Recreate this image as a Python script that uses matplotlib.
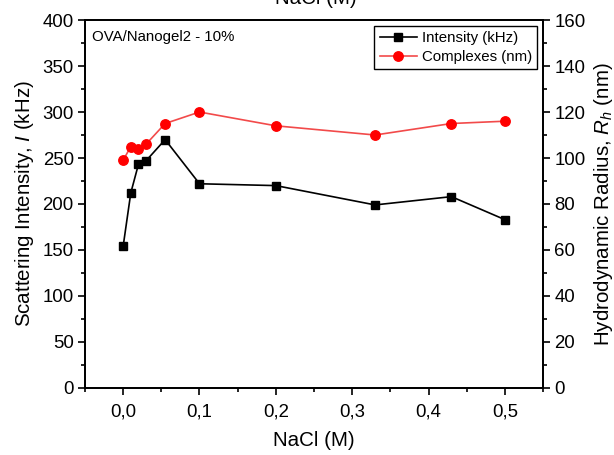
import numpy as np
import matplotlib
matplotlib.use('Agg')
import matplotlib.pyplot as plt
from matplotlib.ticker import MultipleLocator, FuncFormatter

## DATA
nacl = [0.0, 0.01, 0.02, 0.03, 0.055, 0.1, 0.2, 0.33, 0.43, 0.5]
intensity = [154, 212, 243, 247, 270, 222, 220, 199, 208, 183]  # kHz
complexes = [99, 105, 104, 106, 115, 120, 114, 110, 115, 116]   # nm

plt.rcParams['font.family'] = ['Liberation Sans', 'DejaVu Sans']
plt.rcParams['mathtext.fontset'] = 'custom'
plt.rcParams['mathtext.it'] = 'Liberation Sans:italic'
plt.rcParams['mathtext.rm'] = 'Liberation Sans'

fig = plt.figure(figsize=(6.14, 4.55), dpi=100)
ax = fig.add_axes([0.1384, 0.1473, 0.746, 0.8087])
ax2 = ax.twinx()

l1, = ax.plot(nacl, intensity, color='black', lw=1.2, marker='s', ms=5.8,
              label='Intensity (kHz)')
l2, = ax2.plot(nacl, complexes, color='#f24a4a', lw=1.2, marker='o', ms=6.8,
               mfc='red', mec='red', label='Complexes (nm)')

ax.set_xlim(-0.05, 0.55)
ax.set_ylim(0, 400)
ax2.set_ylim(0, 160)

comma = FuncFormatter(lambda v, p: ('%.1f' % v).replace('.', ','))
ax.xaxis.set_major_locator(MultipleLocator(0.1))
ax.xaxis.set_minor_locator(MultipleLocator(0.05))
ax.xaxis.set_major_formatter(comma)
ax.yaxis.set_major_locator(MultipleLocator(50))
ax.yaxis.set_minor_locator(MultipleLocator(25))
ax2.yaxis.set_major_locator(MultipleLocator(20))
ax2.yaxis.set_minor_locator(MultipleLocator(10))

for a in (ax, ax2):
    a.tick_params(which='major', direction='out', length=5, width=1.2,
                  labelsize=13.4, pad=3)
    a.tick_params(which='minor', direction='out', length=3, width=1.2)
    for s in a.spines.values():
        s.set_linewidth(1.3)
ax.tick_params(axis='x', pad=6)

ax.set_xlabel('NaCl (M)', fontsize=14.8, labelpad=8)
ax.set_ylabel('Scattering Intensity, $\\mathit{I}$ (kHz)', fontsize=14.8, labelpad=5)
ax2.set_ylabel('Hydrodynamic Radius, $\\mathit{R_h}$ (nm)', fontsize=14.8, labelpad=5)

ax.text(0.015, 0.972, 'OVA/Nanogel2 - 10%', transform=ax.transAxes,
        fontsize=10.8, va='top', ha='left')

leg = ax.legend(handles=[l1, l2], loc='upper right', fontsize=10.8,
                fancybox=False, edgecolor='black', framealpha=1,
                borderaxespad=0.4, handlelength=2.5, handletextpad=0.3,
                borderpad=0.35, labelspacing=0.3)
leg.get_frame().set_linewidth(1.0)

# top axis label, cut by the image edge as in the original
fig.text(0.515, 1.0 + 1/455, 'NaCl (M)', fontsize=14.8, ha='center', va='center')

fig.savefig('out.png', dpi=100)
